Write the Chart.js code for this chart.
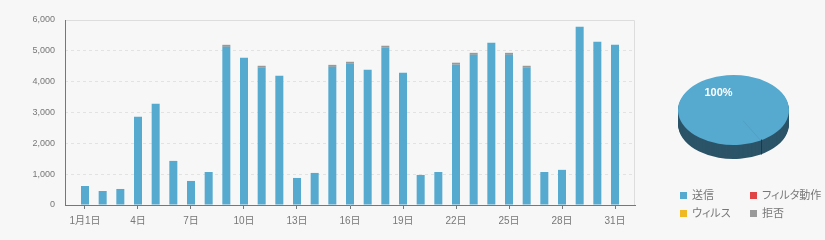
<!DOCTYPE html>
<html><head><meta charset="utf-8">
<script src="https://cdn.jsdelivr.net/npm/chart.js@4/dist/chart.umd.min.js"></script>
<style>
html,body{margin:0;padding:0;background:#f7f7f7;width:825px;height:240px;overflow:hidden;}
#bar{position:absolute;left:0;top:0;}
#pie{position:absolute;left:650px;top:0;}
#legend{position:absolute;left:680px;top:188px;font:11px "Noto Sans CJK JP",sans-serif;color:#777;font-feature-settings:"palt";}
.item{position:absolute;display:flex;align-items:center;height:13px;line-height:13px;white-space:nowrap;}
.sw{width:7px;height:7px;margin-right:5px;margin-top:1px;}
</style></head><body>
<canvas id="bar" width="650" height="240"></canvas>
<canvas id="pie" width="175" height="240"></canvas>
<div id="legend"></div>
<script>
// ---- data ----
const days = [1,2,3,4,5,6,7,8,9,10,11,12,13,14,15,16,17,18,19,20,21,22,23,24,25,26,27,28,29,30,31];
const seriesNames = ["送信","フィルタ動作","ウィルス","拒否"];
const seriesColors = ["#56aacf","#e04444","#f0b822","#999999"];
const sideColors = ["#2c5468","#7a2525","#806212","#555555"];
const sent = [617,455,520,2860,3280,1430,780,1070,5130,4775,4450,4190,877,1040,4480,4580,4385,5100,4290,975,1070,4550,4870,5265,4870,4450,1070,1140,5785,5295,5200];
const filtered = [0,0,0,0,0,0,0,0,0,0,0,0,0,0,0,0,0,0,0,0,0,0,0,0,0,0,0,0,0,0,0];
const virus = [0,0,0,0,0,0,0,0,0,0,0,0,0,0,0,0,0,0,0,0,0,0,0,0,0,0,0,0,0,0,0];
const rejected = [0,0,0,0,0,0,0,0,65,0,65,0,0,0,65,65,0,65,0,0,0,65,65,0,65,65,0,0,0,0,0];
const tickDays = [1,4,7,10,13,16,19,22,25,28,31];
const tickLabels = ["1月1日","4日","7日","10日","13日","16日","19日","22日","25日","28日","31日"];
const pieValues = [100,0,0,0];

Chart.defaults.font.family = '"Liberation Sans","Noto Sans CJK JP",sans-serif';
Chart.defaults.color = '#777';

const series = [sent, filtered, virus, rejected];

const framePlugin = {
  id:'frame',
  afterDraw(chart){
    const {ctx, chartArea:a} = chart;
    ctx.save();
    ctx.lineWidth = 1;
    ctx.strokeStyle = '#dddddd';
    const l = Math.round(a.left)+0.5, r = Math.round(a.right)-0.5, t = Math.round(a.top)+0.5, b = Math.round(a.bottom);
    ctx.beginPath();
    ctx.moveTo(l, t); ctx.lineTo(r, t); ctx.lineTo(r, b);
    ctx.stroke();
    ctx.strokeStyle = '#777777';
    ctx.beginPath();
    ctx.moveTo(l, t-0.5); ctx.lineTo(l, b);
    ctx.stroke();
    ctx.restore();
  }
};

new Chart(document.getElementById('bar'), {
  type:'bar',
  data:{
    datasets: seriesNames.map((n,k)=>({
      label:n,
      data: days.map((d,i)=>({x:d, y:series[k][i]})),
      backgroundColor: seriesColors[k],
      borderWidth:0,
      inflateAmount:0,
      barThickness:8
    }))
  },
  options:{
    responsive:false, animation:false, events:[],
    layout:{padding:{top:20,right:15,left:0,bottom:0}},
    plugins:{legend:{display:false}, tooltip:{enabled:false}},
    scales:{
      x:{
        type:'linear', stacked:true, bounds:'data', offset:false,
        min: days[0]-1.132, max: days[days.length-1]+1.132,
        afterBuildTicks: s => { s.ticks = tickDays.map(v=>({value:v})); },
        afterFit: s => { s.height = 35; },
        grid:{offset:false, drawOnChartArea:false, drawTicks:true, tickLength:4, tickColor:'#777', lineWidth:1},
        border:{display:true, color:'#777', width:1},
        ticks:{autoSkip:false, maxRotation:0, padding:6, color:'#777',
               font:{size:10}, callback:(v,i)=>tickLabels[i]}
      },
      y:{
        min:0, max:6000, stacked:true,
        afterFit: s => { s.width = 65; },
        ticks:{stepSize:1000, padding:10, color:'#777', font:{size:9},
               callback: v => Number(v).toLocaleString('en-US')},
        grid:{drawTicks:false, lineWidth:1,
              color: c => (c.tick && (c.tick.value===0 || c.tick.value===6000)) ? 'rgba(0,0,0,0)' : '#e2e2e2'},
        border:{display:false, dash:[3,3]}
      }
    }
  },
  plugins:[framePlugin]
});

// ---- 3D pie ----
const K = 35/55.5, DEPTH = 14;
const pie3d = {
  id:'pie3d',
  beforeDatasetsDraw(chart){
    const ctx = chart.ctx;
    const arcs = chart.getDatasetMeta(0).data;
    const cx = arcs[0].x, cy = arcs[0].y;
    ctx.save();
    ctx.translate(cx,cy); ctx.scale(1,K); ctx.translate(-cx,-cy);
    for (let d=DEPTH; d>=1; d--) {
      arcs.forEach((a,i)=>{
        if (a.endAngle - a.startAngle <= 0) return;
        ctx.beginPath();
        ctx.moveTo(a.x, a.y + d/K);
        ctx.arc(a.x, a.y + d/K, a.outerRadius, a.startAngle, a.endAngle);
        ctx.closePath();
        ctx.fillStyle = sideColors[i];
        ctx.fill();
      });
    }
  },
  afterDatasetsDraw(chart){
    const ctx = chart.ctx;
    ctx.restore();
    const arcs = chart.getDatasetMeta(0).data;
    const total = pieValues.reduce((s,v)=>s+v,0);
    ctx.save();
    arcs.forEach((a,i)=>{
      if (a.endAngle - a.startAngle <= 0) return;
      const R = a.outerRadius, ang = a.startAngle;
      const c = Math.cos(ang), s = Math.sin(ang);
      ctx.strokeStyle = 'rgba(0,0,0,0.06)'; ctx.lineWidth = 1;
      ctx.beginPath();
      ctx.moveTo(a.x + 0.35*R*c, a.y + K*0.35*R*s);
      ctx.lineTo(a.x + R*c, a.y + K*R*s);
      ctx.stroke();
      if (s > 0) {
        const sx = Math.round(a.x + R*c) + 0.5, sy = a.y + K*R*s;
        ctx.strokeStyle = 'rgba(40,50,56,0.9)';
        ctx.beginPath(); ctx.moveTo(sx, sy-1); ctx.lineTo(sx, sy+DEPTH); ctx.stroke();
      }
      const mid = (a.startAngle + a.endAngle)/2;
      const lx = a.x + 0.55*R*Math.cos(mid), ly = a.y + K*0.55*R*Math.sin(mid);
      ctx.fillStyle = '#ffffff';
      ctx.font = 'bold 11px "Liberation Sans", sans-serif';
      ctx.textAlign = 'center'; ctx.textBaseline = 'middle';
      ctx.fillText(Math.round(pieValues[i]/total*100) + '%', lx, ly);
    });
    ctx.restore();
  }
};

new Chart(document.getElementById('pie'), {
  type:'pie',
  data:{labels:seriesNames, datasets:[{data:pieValues, backgroundColor:seriesColors, borderWidth:0, clip:false}]},
  options:{
    responsive:false, animation:false, events:[],
    radius:55.5, rotation:150.6,
    layout:{padding:{left:0,right:8,top:0,bottom:20}},
    plugins:{legend:{display:false}, tooltip:{enabled:false}}
  },
  plugins:[pie3d]
});

// ---- legend ----
const lg = document.getElementById('legend');
seriesNames.forEach((n,i)=>{
  const it = document.createElement('div');
  it.className = 'item';
  it.style.left = (i%2)*70 + 'px';
  it.style.top = Math.floor(i/2)*18 + 'px';
  const sw = document.createElement('span');
  sw.className = 'sw'; sw.style.background = seriesColors[i];
  const tx = document.createElement('span');
  tx.textContent = n;
  it.appendChild(sw); it.appendChild(tx);
  lg.appendChild(it);
});
</script>
</body></html>
